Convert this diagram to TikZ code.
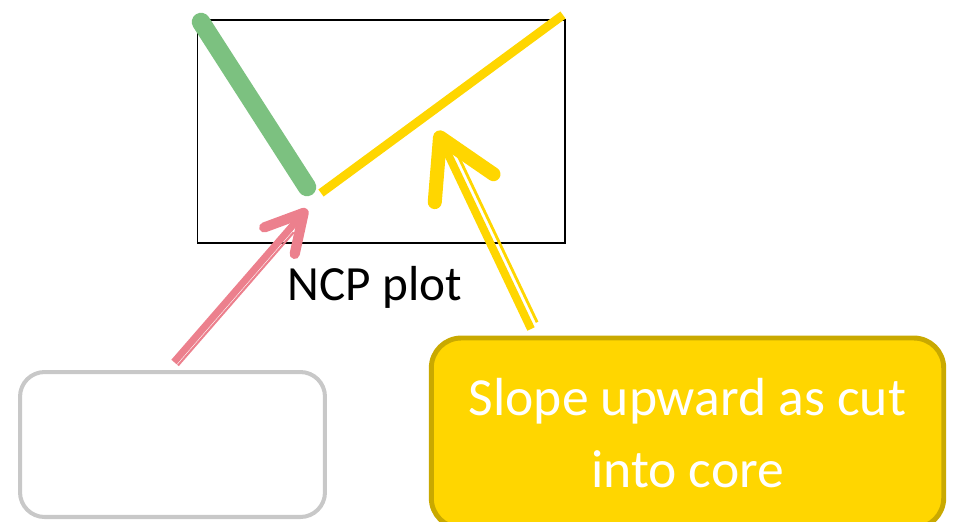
\documentclass[tikz,border=0pt]{standalone}
\usepackage{fontspec}
\setmainfont{Carlito}
\usetikzlibrary{positioning,calc,arrows.meta}

\definecolor{plotgreen}{RGB}{124,193,128}
\definecolor{cutyellow}{RGB}{255,214,0}
\definecolor{cutborder}{RGB}{201,169,0}
\definecolor{arrowpink}{RGB}{236,128,141}
\definecolor{boxgrey}{RGB}{200,200,200}

\tikzset{
  plotframe/.style={draw=black, line width=0.6pt, minimum width=7.36cm, minimum height=4.46cm, inner sep=0pt},
  greenseg/.style={draw=plotgreen, line width=10.5pt, line cap=round},
  yellowseg/.style={draw=cutyellow, line width=5pt},
  pinkshaft/.style={draw=arrowpink, line width=4pt,
    -{Straight Barb[round, length=21pt, width=23pt, line width=5.8pt]}},
  pinkthin/.style={draw=arrowpink, line width=1.2pt},
  yellowshaft/.style={draw=cutyellow, line width=4.6pt,
    -{Straight Barb[round, length=32pt, width=37pt, line width=8pt]}},
  yellowthin/.style={draw=cutyellow, line width=1.6pt},
  emptybox/.style={draw=boxgrey, line width=2.3pt, rounded corners=14pt,
    minimum width=6.1cm, minimum height=2.9cm},
  corebox/.style={draw=cutborder, fill=cutyellow, line width=2.8pt, rounded corners=17pt,
    minimum width=10.25cm, minimum height=3.8cm, text=white, align=center,
    font=\fontsize{30.5}{41.4}\selectfont},
}

\begin{document}
\begin{tikzpicture}[x=0.02cm, y=-0.02cm]
\useasboundingbox (0,0) rectangle (955,521);

\node[plotframe] (ncp) at (381,131.5) {};
\node[font=\fontsize{28}{34}\selectfont] (ncplabel) at (375,287) {NCP plot};

\node[emptybox] (leftbox) at (172.5,444.5) {};
\node[corebox] (cutbox) at (687.5,433) {Slope upward as cut\\into core};

\coordinate (greentop) at (201,22);
\coordinate (bend) at (307,187);
\coordinate (yellowstart) at (321,193);
\coordinate (yellowend) at (563,15);

\coordinate (pinkfoot) at (174,362);
\coordinate (pinktip) at (307,209);
\coordinate (yellowfoot) at (531,329);
\coordinate (yellowtip) at (437,131);

\draw[greenseg] (greentop) -- (bend);
\draw[yellowseg] (yellowstart) -- (yellowend);

% arrows with their thin side line
\draw[pinkthin, shorten >=15pt] ($(pinkfoot)!3pt!-90:(pinktip)$) -- ($(pinktip)!3pt!90:(pinkfoot)$);
\draw[pinkshaft] (pinkfoot) -- (pinktip);

\draw[yellowthin, shorten >=17pt, shorten <=2pt] ($(yellowfoot)!4.8pt!-90:(yellowtip)$) -- ($(yellowtip)!4.8pt!90:(yellowfoot)$);
\draw[yellowshaft] (yellowfoot) -- (yellowtip);
\end{tikzpicture}
\end{document}
